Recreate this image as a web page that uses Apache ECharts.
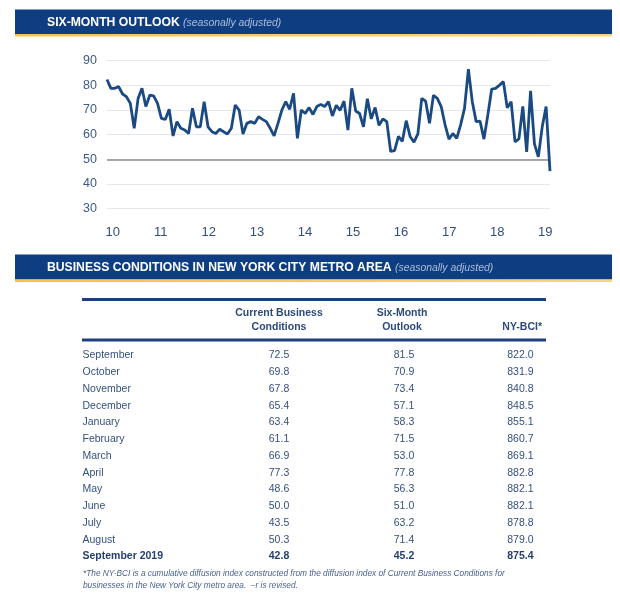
<!DOCTYPE html>
<html><head><meta charset="utf-8">
<script src="https://cdn.jsdelivr.net/npm/echarts@6/dist/echarts.min.js"></script>
<style>html,body{margin:0;padding:0;background:#fff}#c{width:620px;height:606px}</style>
</head><body><div id="c"></div>
<script>
// Six-month outlook, monthly (last 13 months come from the table)
const outlookHistory = [
  82.4, 78.8, 78.8, 79.5, 76.5, 75.4, 72.7, 62.6, 74.7, 78.8,
  71.4, 76.0, 75.7, 72.7, 66.6, 66.2, 70.3, 59.5, 65.3, 62.6,
  61.9, 60.5, 70.7, 63.2, 63.2, 73.4, 63.2, 61.2, 60.5, 62.2,
  61.2, 60.3, 62.6, 72.0, 70.0, 60.3, 64.6, 65.3, 64.6, 67.3,
  66.2, 65.3, 62.6, 59.5, 64.6, 70.0, 73.4, 70.3, 76.8, 58.5,
  70.0, 68.6, 71.0, 68.2, 71.4, 72.3, 71.4, 73.4, 67.6, 71.9,
  69.9, 73.6, 61.9, 78.8, 69.6, 68.6, 63.2, 74.6, 66.4, 71.0,
  63.8, 66.4, 65.3, 53.2, 53.5, 59.3, 57.3, 65.7, 59.3, 57.0,
  60.3, 74.7, 73.6, 64.6, 76.0, 74.7, 71.4, 64.0, 58.2, 60.5,
  58.5, 64.0, 70.7, 86.6, 73.4, 65.3, 65.5, 58.2, 68.0, 78.5,
  78.8, 80.1
];
const yearLabels = ['10', '11', '12', '13', '14', '15', '16', '17', '18', '19'];
const yTickLabels = ['30', '40', '50', '60', '70', '80', '90'];
const referenceLevel = 50;

// Table
const tableMonths = ['September', 'October', 'November', 'December', 'January', 'February',
  'March', 'April', 'May', 'June', 'July', 'August', 'September 2019'];
const currentConditions = [72.5, 69.8, 67.8, 65.4, 63.4, 61.1, 66.9, 77.3, 48.6, 50.0, 43.5, 50.3, 42.8];
const sixMonthOutlook = [81.5, 70.9, 73.4, 57.1, 58.3, 71.5, 53.0, 77.8, 56.3, 51.0, 63.2, 71.4, 45.2];
const nyBci = [822.0, 831.9, 840.8, 848.5, 855.1, 860.7, 869.1, 882.8, 882.1, 882.1, 878.8, 879.0, 875.4];
const tableHeaders = [['Current Business', 'Conditions'], ['Six-Month', 'Outlook'], ['', 'NY-BCI*']];
const footnoteLines = [
  '*The NY-BCI is a cumulative diffusion index constructed from the diffusion index of Current Business Conditions for',
  'businesses in the New York City metro area.  \u2013r is revised.'
];
const chartTitle = ['SIX-MONTH OUTLOOK', '(seasonally adjusted)'];
const tableTitle = ['BUSINESS CONDITIONS IN NEW YORK CITY METRO AREA', '(seasonally adjusted)'];

const outlookSeries = outlookHistory.concat(sixMonthOutlook);
const monthIndex = outlookSeries.map((_, i) => String(i));

const FONT = '"Liberation Sans", Arial, Helvetica, sans-serif';
const NAVY = '#0e3d82';
const GOLD = '#f2c54a';
const TXT = '#34517f';
const LINE = '#1b4a82';

const chart = echarts.init(document.getElementById('c'), null, { renderer: 'canvas' });

function banner(y, h, title) {
  return [
    { type: 'rect', shape: { x: 15, y: y, width: 597, height: h }, style: { fill: NAVY }, silent: true },
    { type: 'rect', shape: { x: 15, y: y + h, width: 597, height: 2.5 },
      style: { fill: new echarts.graphic.LinearGradient(0, 0, 1, 0, [
        { offset: 0, color: GOLD }, { offset: 1, color: '#f7d77a' }]) }, silent: true },
    { type: 'text', x: 47, y: y + h / 2 + 1,
      style: { text: '{a|' + title[0] + '} {b|' + title[1] + '}', textVerticalAlign: 'middle',
        rich: {
          a: { fontFamily: FONT, fontWeight: 'bold', fontSize: 12.2, fill: '#ffffff', color: '#ffffff' },
          b: { fontFamily: FONT, fontStyle: 'italic', fontSize: 10.4, fill: '#aebfdb', color: '#aebfdb' }
        } }, silent: true }
  ];
}

const g = [];
g.push(...banner(9.5, 24.5, chartTitle));
g.push(...banner(254.5, 25, tableTitle));

// table rules
const tLeft = 82, tRight = 546;
g.push({ type: 'rect', shape: { x: tLeft, y: 298, width: tRight - tLeft, height: 3 }, style: { fill: '#1d3f7c' }, silent: true });
g.push({ type: 'rect', shape: { x: tLeft, y: 338.5, width: tRight - tLeft, height: 3 }, style: { fill: '#1d3f7c' }, silent: true });

const headX = [279, 402, 542];
const colX = [279, 404, 533.5];
const colAlign = ['center', 'center', 'right'];
tableHeaders.forEach((h, c) => {
  h.forEach((line, r) => {
    if (!line) return;
    g.push({ type: 'text', x: headX[c], y: 313.5 + r * 14,
      style: { text: line, fill: '#2c4a7e', font: 'bold 10.5px ' + FONT, textAlign: colAlign[c], textVerticalAlign: 'middle' }, silent: true });
  });
});

tableMonths.forEach((m, i) => {
  const y = 355.5 + i * 16.75;
  const bold = i === tableMonths.length - 1;
  const f = (bold ? 'bold ' : '') + '10.5px ' + FONT;
  const col = bold ? '#253f6e' : TXT;
  g.push({ type: 'text', x: 82.5, y: y, style: { text: m, fill: col, font: f, textAlign: 'left', textVerticalAlign: 'middle' }, silent: true });
  [currentConditions[i], sixMonthOutlook[i], nyBci[i]].forEach((v, c) => {
    g.push({ type: 'text', x: colX[c], y: y, style: { text: v.toFixed(1), fill: col, font: f, textAlign: colAlign[c], textVerticalAlign: 'middle' }, silent: true });
  });
});

footnoteLines.forEach((t, i) => {
  g.push({ type: 'text', x: 83, y: 573.5 + i * 12.5, style: { text: t, fill: '#4a6190', font: 'italic 8.3px ' + FONT, textAlign: 'left', textVerticalAlign: 'middle' }, silent: true });
});

chart.setOption({
  animation: false,
  backgroundColor: '#ffffff',
  grid: { left: 107, right: 70, top: 60.7, height: 148, containLabel: false },
  xAxis: [
    { type: 'category', data: monthIndex, boundaryGap: false, show: false },
    { type: 'value', position: 'bottom', min: 9.881, max: 19.099,
      axisLine: { show: false }, axisTick: { show: false }, splitLine: { show: false },
      axisLabel: { customValues: yearLabels.map(Number), formatter: v => String(Math.round(v)),
        color: '#2f4e82', fontSize: 13, fontFamily: FONT, margin: 17 } }
  ],
  yAxis: {
    type: 'value', min: Number(yTickLabels[0]), max: Number(yTickLabels[yTickLabels.length - 1]), interval: 10,
    axisLine: { show: false }, axisTick: { show: false },
    axisLabel: { color: '#3d5a8a', fontSize: 12.5, fontFamily: FONT, margin: 10 },
    splitLine: { lineStyle: { color: '#e4e7ec', width: 1 } }
  },
  series: [{
    type: 'line', xAxisIndex: 0, data: outlookSeries, showSymbol: false, symbol: 'none',
    lineStyle: { color: LINE, width: 2.8 }, z: 3,
    markLine: { silent: true, symbol: ['none', 'none'], label: { show: false },
      lineStyle: { color: '#8d8d8d', width: 1.6, type: 'solid' },
      data: [{ yAxis: referenceLevel }], z: 2 }
  }],
  graphic: { elements: g }
});
</script></body></html>
